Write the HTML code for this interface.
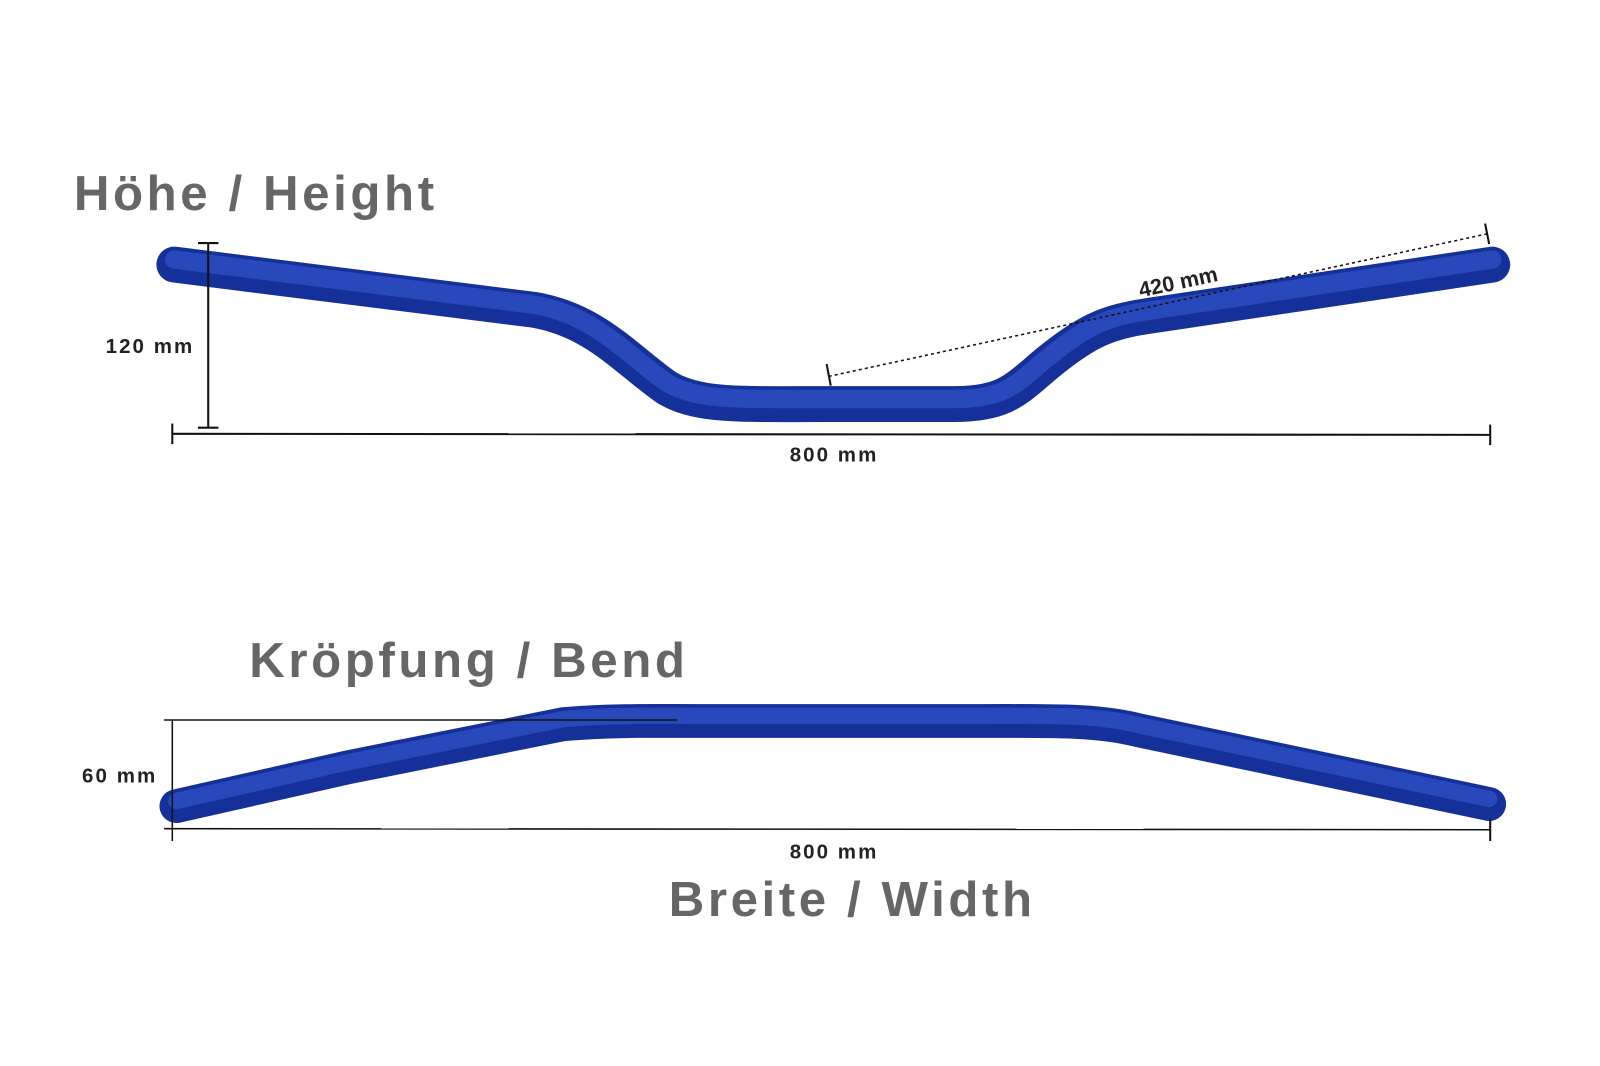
<!DOCTYPE html>
<html><head><meta charset="utf-8"><style>
html,body{margin:0;padding:0;background:#fff;}
svg{display:block}
.t{font-family:"Liberation Sans",sans-serif;font-weight:bold;fill:#666;font-size:48px;letter-spacing:3.5px}
.d{font-family:"Liberation Sans",sans-serif;font-weight:bold;fill:#222;font-size:20px;letter-spacing:2px}
</style></head><body>
<svg width="1600" height="1066" viewBox="0 0 1600 1066" xmlns="http://www.w3.org/2000/svg">
<g transform="scale(1.0256)">
<text class="t" x="72" y="205">Höhe / Height</text>
<!-- top bar -->
<path d="M170,258 L520,302 C580,312 610,350 650,378 C680,396 720,394 800,394 L930,394 C980,394 990,380 1020,355 C1060,322 1080,314 1120,308 L1455,258" fill="none" stroke="#16309a" stroke-width="35" stroke-linecap="round"/>
<path d="M170,253 L520,297 C580,307 610,345 650,373 C680,391 720,389 800,389 L930,389 C980,389 990,375 1020,350 C1060,317 1080,309 1120,303 L1455,253" fill="none" stroke="#2d4fc4" stroke-width="18" stroke-linecap="round" opacity="0.8"/>
<!-- dims top -->
<g stroke="#111" stroke-width="2" fill="none">
<line x1="203" y1="237" x2="203" y2="417"/><line x1="193" y1="237" x2="213" y2="237"/><line x1="193" y1="417" x2="213" y2="417"/>
<line x1="168" y1="423" x2="1453" y2="424"/><line x1="168" y1="413" x2="168" y2="433"/><line x1="1453" y1="414" x2="1453" y2="434"/>
<line x1="808" y1="367" x2="1450" y2="228" stroke-dasharray="3,3" stroke-width="1.5"/>
<line x1="806" y1="355" x2="810" y2="376"/><line x1="1448" y1="218" x2="1452" y2="238"/>
</g>
<text class="d" x="103" y="344">120 mm</text>
<text class="d" x="770" y="450">800 mm</text>
<text class="d" x="1112" y="290" transform="rotate(-12 1112 290)" style="letter-spacing:0;font-size:21px">420 mm</text>

<text class="t" x="243" y="660">Kröpfung / Bend</text>
<!-- bottom bar -->
<path d="M172,786 L340,748 L550,706 C600,702 640,703 680,703 L960,703 C1030,703 1070,702 1110,712 L1452,784" fill="none" stroke="#16309a" stroke-width="33" stroke-linecap="round"/>
<path d="M172,781 L340,743 L550,701 C600,697 640,698 680,698 L960,698 C1030,698 1070,697 1110,707 L1452,779" fill="none" stroke="#2d4fc4" stroke-width="16" stroke-linecap="round" opacity="0.8"/>
<g stroke="#111" stroke-width="1.5" fill="none">
<line x1="160" y1="702" x2="660" y2="702"/>
<line x1="168" y1="702" x2="168" y2="820"/>
<line x1="160" y1="808" x2="1453" y2="809"/><line x1="1453" y1="799" x2="1453" y2="820" stroke-width="2"/>
</g>
<text class="d" x="80" y="763">60 mm</text>
<text class="d" x="770" y="837">800 mm</text>
<text class="t" x="652" y="893">Breite / Width</text>
</g>
</svg>
</body></html>
